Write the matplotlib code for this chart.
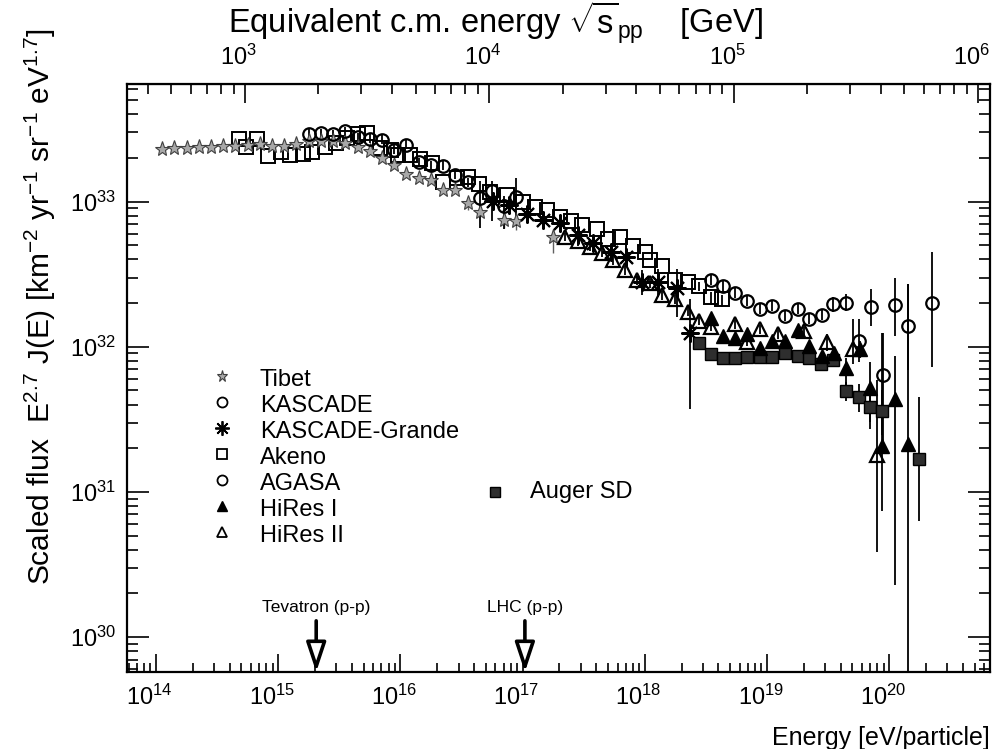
import numpy as np
import matplotlib
matplotlib.use('Agg')
import matplotlib.pyplot as plt
import matplotlib.transforms as mtransforms
from matplotlib.ticker import FixedLocator, LogFormatterSciNotation

plt.rcParams['font.family'] = ['Liberation Sans', 'DejaVu Sans']
plt.rcParams['mathtext.fontset'] = 'custom'
plt.rcParams['mathtext.rm'] = 'Liberation Sans'
plt.rcParams['mathtext.it'] = 'Liberation Sans:italic'
plt.rcParams['mathtext.bf'] = 'Liberation Sans:bold'

# ---- data: log10(E/eV), log10(E^2.7 J(E)), error bars in dex ----
tibet_logE = [14.05, 14.15, 14.25, 14.35, 14.45, 14.55, 14.65, 14.75, 14.85, 14.95,
              15.05, 15.15, 15.25, 15.35, 15.45, 15.55, 15.65, 15.75, 15.85, 15.95,
              16.05, 16.15, 16.25, 16.35, 16.45, 16.55, 16.65, 16.85, 16.95, 17.25]
tibet_logF = [33.362, 33.366, 33.371, 33.373, 33.376, 33.380, 33.385, 33.390, 33.399, 33.385,
              33.385, 33.399, 33.414, 33.419, 33.414, 33.403, 33.376, 33.346, 33.300, 33.254,
              33.192, 33.163, 33.146, 33.082, 33.078, 32.993, 32.931, 32.876, 32.863, 32.759]
tibet_elo = [0] * 25 + [0.05, 0.04, 0.06, 0.06, 0.11]
tibet_ehi = [0] * 25 + [0.02, 0.02, 0.05, 0.05, 0.046]

kascade_logE = [15.25, 15.35, 15.45, 15.55, 15.65, 15.75, 15.85, 15.95, 16.05, 16.15,
                16.25, 16.35, 16.45, 16.55, 16.65, 16.75, 16.85, 16.95]
kascade_logF = [33.467, 33.472, 33.465, 33.483, 33.442, 33.433, 33.426, 33.357, 33.392, 33.270,
                33.251, 33.247, 33.186, 33.133, 33.027, 33.076, 32.973, 33.034]
kascade_elo = [0.03] * 14 + [0.206, 0.211, 0.165, 0.20]
kascade_ehi = [0.03] * 14 + [0.117, 0.064, 0.064, 0.13]

grande_logE = [16.76, 16.89, 17.04, 17.17, 17.31, 17.45, 17.58, 17.72, 17.85, 17.98,
               18.11, 18.26, 18.37]
grande_logF = [33.007, 32.979, 32.918, 32.871, 32.856, 32.773, 32.716, 32.653, 32.620, 32.447,
               32.443, 32.402, 32.098]
grande_elo = [0.02] * 9 + [0.093, 0.10, 0.198, 0.527]
grande_ehi = [0.02] * 9 + [0.079, 0.09, 0.137, 0.229]

akeno_logE = [14.68, 14.74, 14.83, 14.92, 15.02, 15.10, 15.20, 15.28, 15.38, 15.47,
              15.56, 15.65, 15.73, 15.83, 15.92, 15.98, 16.08, 16.16, 16.26, 16.35,
              16.46, 16.55, 16.64, 16.73, 16.87, 17.00, 17.10, 17.20, 17.31, 17.40,
              17.49, 17.61, 17.70, 17.80, 17.90, 18.00, 18.04, 18.14, 18.25, 18.35,
              18.44, 18.54, 18.63]
akeno_logF = [33.433, 33.378, 33.433, 33.316, 33.344, 33.323, 33.330, 33.344, 33.378, 33.405,
              33.440, 33.467, 33.474, 33.371, 33.357, 33.323, 33.323, 33.296, 33.268, 33.137,
              33.165, 33.172, 33.124, 33.069, 33.048, 33.000, 32.966, 32.945, 32.897, 32.863,
              32.838, 32.808, 32.739, 32.759, 32.691, 32.656, 32.598, 32.553, 32.457, 32.443,
              32.416, 32.340, 32.326]
akeno_elo = [0] * 40 + [0.03, 0.05, 0.05]
akeno_ehi = [0] * 40 + [0.03, 0.04, 0.03]

agasa_logE = [18.54, 18.64, 18.74, 18.84, 18.94, 19.04, 19.15, 19.25, 19.34, 19.45,
              19.54, 19.65, 19.75, 19.85, 19.95, 20.05, 20.15, 20.35]
agasa_logF = [32.462, 32.416, 32.368, 32.315, 32.260, 32.283, 32.215, 32.258, 32.189, 32.220,
              32.292, 32.304, 32.040, 32.276, 31.804, 32.285, 32.143, 32.304]
agasa_elo = [0.035] * 10 + [0.05, 0.06, 0.146, 0.136, 0.50, 0.21, 0.30, 0.444]
agasa_ehi = [0.035] * 10 + [0.05, 0.06, 0.149, 0.12, 0.29, 0.19, 0.287, 0.352]

hires1_logE = [18.54, 18.64, 18.74, 18.84, 18.94, 19.04, 19.15, 19.25, 19.34, 19.45,
               19.55, 19.65, 19.76, 19.84, 19.94, 20.05, 20.15]
hires1_logF = [32.196, 32.072, 32.063, 32.086, 31.990, 32.043, 32.040, 32.117, 32.005, 31.935,
               31.955, 31.852, 31.983, 31.715, 31.318, 31.639, 31.330]
hires1_elo = [0.03] * 11 + [0.17, 0.06, 0.23, 0.45, 1.28, 3.0]
hires1_ehi = [0.03] * 11 + [0.07, 0.06, 0.18, 0.78, 0.30, 1.10]

hires2_logE = [17.35, 17.45, 17.55, 17.65, 17.74, 17.84, 17.94, 18.04, 18.14, 18.25,
               18.35, 18.44, 18.54, 18.74, 18.84, 18.94, 19.09, 19.30, 19.49, 19.70, 19.90]
hires2_logF = [32.756, 32.727, 32.687, 32.647, 32.595, 32.526, 32.457, 32.436, 32.354, 32.326,
               32.241, 32.177, 32.137, 32.155, 32.034, 32.120, 32.086, 32.109, 32.031, 31.983,
               31.254]
hires2_elo = [0.03] * 18 + [0.06, 0.10, 0.67]
hires2_ehi = [0.03] * 18 + [0.06, 0.21, 0.52]

auger_logE = [18.44, 18.54, 18.64, 18.74, 18.84, 18.94, 19.04, 19.15, 19.25, 19.34,
              19.44, 19.54, 19.65, 19.75, 19.84, 19.94, 20.24]
auger_logF = [32.027, 31.948, 31.926, 31.926, 31.933, 31.933, 31.928, 31.957, 31.935, 31.921,
              31.883, 31.907, 31.696, 31.654, 31.586, 31.559, 31.227]
auger_elo = [0.02] * 11 + [0.03, 0.07, 0.10, 0.15, 0.17, 0.43]
auger_ehi = [0.02] * 11 + [0.03, 0.06, 0.09, 0.12, 0.14, 0.43]

# collider c.m. energies [GeV]
collider_names = ['Tevatron (p-p)', 'LHC (p-p)']
collider_sqrts = [1960.0, 14000.0]

# labelled decades on each axis
energy_decades = [1e14, 1e15, 1e16, 1e17, 1e18, 1e19, 1e20]
flux_decades = [1e30, 1e31, 1e32, 1e33]
cm_decades = [1e3, 1e4, 1e5, 1e6]

M_P = 0.938  # proton mass [GeV]


def lab_to_cm(e_ev):
    e_ev = np.asarray(e_ev, dtype=float)
    return np.sqrt(np.clip(2.0 * M_P * e_ev * 1e-9, 1e-30, None))


def cm_to_lab(rs):
    rs = np.asarray(rs, dtype=float)
    return rs ** 2 / (2.0 * M_P) * 1e9


def draw_series(ax, logE, logF, elo, ehi, ecolor='k', elw=1.3, **kw):
    E = 10.0 ** np.array(logE)
    F = 10.0 ** np.array(logF)
    lo = F - F * 10.0 ** (-np.array(elo, dtype=float))
    hi = F * 10.0 ** np.array(ehi, dtype=float) - F
    ax.errorbar(E, F, yerr=[lo, hi], linestyle='none', capsize=0,
                ecolor=ecolor, elinewidth=elw, **kw)


fig = plt.figure(figsize=(10.03, 7.49), dpi=100)
ax = fig.add_axes([127 / 1003, 1 - 672 / 749, 863 / 1003, 588 / 749])
ax.set_xscale('log')
ax.set_yscale('log')
ax.set_xlim(10 ** 13.763, 10 ** 20.825)
ax.set_ylim(10 ** 29.76, 10 ** 33.81)

styles = {
    'Tibet': dict(marker='*', ms=11, mfc='#a8a8a8', mec='#404040', mew=0.8),
    'KASCADE': dict(marker='o', ms=9, mfc='none', mec='k', mew=1.6),
    'KASCADE-Grande': dict(marker=(8, 2, 0), ms=13, mfc='k', mec='k', mew=1.5),
    'Akeno': dict(marker='s', ms=10, mfc='none', mec='k', mew=1.4),
    'AGASA': dict(marker='o', ms=9, mfc='none', mec='k', mew=1.6),
    'HiRes I': dict(marker='^', ms=10, mfc='k', mec='k', mew=1.0),
    'HiRes II': dict(marker='^', ms=10, mfc='none', mec='k', mew=1.6),
    'Auger SD': dict(marker='s', ms=8.5, mfc='#2e2e2e', mec='k', mew=1.0),
}

draw_series(ax, akeno_logE, akeno_logF, akeno_elo, akeno_ehi, **styles['Akeno'])
draw_series(ax, tibet_logE, tibet_logF, tibet_elo, tibet_ehi, ecolor='#606060', elw=1.0,
            **styles['Tibet'])
draw_series(ax, kascade_logE, kascade_logF, kascade_elo, kascade_ehi, **styles['KASCADE'])
draw_series(ax, grande_logE, grande_logF, grande_elo, grande_ehi, **styles['KASCADE-Grande'])
draw_series(ax, hires2_logE, hires2_logF, hires2_elo, hires2_ehi, **styles['HiRes II'])
draw_series(ax, auger_logE, auger_logF, auger_elo, auger_ehi, **styles['Auger SD'])
draw_series(ax, hires1_logE, hires1_logF, hires1_elo, hires1_ehi, **styles['HiRes I'])
draw_series(ax, agasa_logE, agasa_logF, agasa_elo, agasa_ehi, **styles['AGASA'])

# axes frame and ticks
for sp in ax.spines.values():
    sp.set_linewidth(1.6)
ax.xaxis.set_major_locator(FixedLocator(energy_decades))
ax.yaxis.set_major_locator(FixedLocator(flux_decades))
ax.xaxis.set_major_formatter(LogFormatterSciNotation())
ax.yaxis.set_major_formatter(LogFormatterSciNotation())
ax.tick_params(which='both', direction='in', top=False, right=True, width=1.2, colors='k')
ax.tick_params(axis='x', which='major', length=13, pad=9, labelsize=17)
ax.tick_params(axis='x', which='minor', length=6.5)
ax.tick_params(axis='y', which='major', length=16, pad=8, labelsize=17)
ax.tick_params(axis='y', which='minor', length=8)

top = ax.secondary_xaxis('top', functions=(lab_to_cm, cm_to_lab))
top.xaxis.set_major_locator(FixedLocator(cm_decades))
top.xaxis.set_major_formatter(LogFormatterSciNotation())
top.tick_params(which='both', direction='in', width=1.2, labelsize=17, pad=10)
top.tick_params(which='major', length=14)
top.tick_params(which='minor', length=7)

# decade labels sit with the "10" over the tick, exponent hanging to the right
shift = mtransforms.ScaledTranslation(-4.5 / 72, 0, fig.dpi_scale_trans)
for t in ax.xaxis.get_major_ticks() + top.xaxis.get_major_ticks():
    t.label1.set_transform(t.label1.get_transform() + shift)
    t.label2.set_transform(t.label2.get_transform() + shift)

# labels
fig.text(0.4935, 0.969, r'Equivalent c.m. energy $\sqrt{\mathrm{s}}_{\mathrm{pp}}$    [GeV]',
         ha='center', va='center', fontsize=23.5)
fig.text(0.987, -0.002, 'Energy [eV/particle]', ha='right', va='bottom', fontsize=18)
fig.text(0.040, 0.590,
         r'Scaled flux  E$^{2.7}$ J(E) [km$^{-2}$ yr$^{-1}$ sr$^{-1}$ eV$^{1.7}$]',
         rotation=90, ha='center', va='center', fontsize=21.5)

# collider arrows
trans = mtransforms.blended_transform_factory(ax.transData, ax.transAxes)
for name, rs in zip(collider_names, collider_sqrts):
    e_lab = cm_to_lab(rs)
    ax.annotate('', xy=(e_lab, 0.0), xycoords=trans, xytext=(e_lab, 0.087), textcoords=trans,
                arrowprops=dict(arrowstyle='-|>,head_length=0.9,head_width=0.3',
                                mutation_scale=20, lw=2.6, fc='white', ec='k',
                                shrinkA=0, shrinkB=0))
    ax.text(e_lab, 0.097, name, transform=trans, ha='center', va='bottom', fontsize=12.5)

# legend, drawn entry by entry
leg_names = ['Tibet', 'KASCADE', 'KASCADE-Grande', 'Akeno', 'AGASA', 'HiRes I', 'HiRes II']
leg_scale = {'Tibet': 0.75, 'KASCADE': 0.8, 'KASCADE-Grande': 0.8, 'Akeno': 0.75,
             'AGASA': 0.8, 'HiRes I': 0.75, 'HiRes II': 0.75, 'Auger SD': 0.8}
x_mark, x_text, y0, dy = 0.110, 0.154, 0.4864, 0.0442
for i, name in enumerate(leg_names):
    st = dict(styles[name])
    st['ms'] = st['ms'] * leg_scale[name]
    st['mew'] = min(st['mew'], 1.3)
    yb = y0 - i * dy
    ax.plot([x_mark], [yb + 0.017], transform=ax.transAxes, linestyle='none', **st)
    ax.text(x_text, yb, name, transform=ax.transAxes, ha='left', va='baseline', fontsize=17)

st = dict(styles['Auger SD'])
st['ms'] = st['ms'] * leg_scale['Auger SD']
ax.plot([(495 - 127) / 863], [(672 - 491.7) / 588], transform=ax.transAxes,
        linestyle='none', **st)
ax.text((530 - 127) / 863, (672 - 498) / 588, 'Auger SD', transform=ax.transAxes,
        ha='left', va='baseline', fontsize=17)

fig.savefig('out.png', dpi=100)
